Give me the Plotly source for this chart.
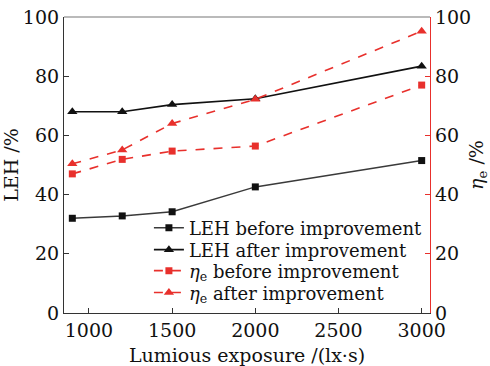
import plotly.graph_objects as go

exposure = [900, 1200, 1500, 2000, 3000]
leh_before = [32.0, 32.8, 34.2, 42.6, 51.5]
leh_after = [68.0, 68.0, 70.4, 72.4, 83.4]
eta_before = [47.0, 51.9, 54.7, 56.4, 77.0]
eta_after = [50.4, 55.1, 64.0, 72.2, 95.2]

x_ticks = [1000, 1500, 2000, 2500, 3000]
y_ticks = [0, 20, 40, 60, 80, 100]

RED = "#e8302c"
FONT = "DejaVu Serif"

fig = go.Figure()
fig.add_trace(go.Scatter(
    x=exposure, y=leh_before, name="LEH before improvement",
    mode="lines+markers", line=dict(color="#3a3a3a", width=1.5),
    marker=dict(symbol="square", size=7, color="#111111"),
    legend="legend"))
fig.add_trace(go.Scatter(
    x=exposure, y=leh_after, name="LEH after improvement",
    mode="lines+markers", line=dict(color="#111111", width=1.6),
    marker=dict(symbol="triangle-up", size=9, color="#111111"),
    legend="legend2"))
fig.add_trace(go.Scatter(
    x=exposure, y=eta_before, name="<i>η</i><sub>e</sub> before improvement",
    mode="lines+markers", yaxis="y2",
    line=dict(color=RED, width=1.6, dash="dash"),
    marker=dict(symbol="square", size=7, color=RED),
    legend="legend3"))
fig.add_trace(go.Scatter(
    x=exposure, y=eta_after, name="<i>η</i><sub>e</sub> after improvement",
    mode="lines+markers", yaxis="y2",
    line=dict(color=RED, width=1.6, dash="dash"),
    marker=dict(symbol="triangle-up", size=9, color=RED),
    legend="legend4"))

axis_font = dict(family=FONT, size=19, color="#111111")
legend_font = dict(family=FONT, size=18, color="#111111")


def legend_box(y):
    # one entry per box so the rows can sit closely together
    return dict(x=0.232, y=y, xanchor="left", yanchor="middle",
                bgcolor="rgba(0,0,0,0)", borderwidth=0,
                font=legend_font, itemwidth=30)


fig.update_layout(
    width=490, height=366,
    margin=dict(l=64, r=60, t=17, b=53),
    paper_bgcolor="white", plot_bgcolor="white",
    font=dict(family=FONT, size=19, color="#111111"),
    showlegend=True,
    legend=legend_box(0.287),
    legend2=legend_box(0.213),
    legend3=legend_box(0.142),
    legend4=legend_box(0.068),
    xaxis=dict(range=[850, 3050], tickvals=x_ticks, ticks="inside",
               ticklen=5, tickcolor="#333333", showgrid=False, zeroline=False,
               showline=True, linecolor="#333333", linewidth=1.2,
               tickfont=axis_font, automargin=False,
               title=dict(text="Lumious exposure /(lx·s)", font=axis_font)),
    yaxis=dict(range=[0, 100], tickvals=y_ticks, ticks="inside", ticklen=5,
               tickcolor="#333333", showgrid=False, zeroline=False,
               showline=True, linecolor="#333333", linewidth=1.2,
               tickfont=axis_font, automargin=False,
               title=dict(text="LEH /%", font=axis_font)),
    yaxis2=dict(range=[0, 100], tickvals=y_ticks, overlaying="y",
                side="right", ticks="inside", ticklen=5, tickcolor=RED,
                showgrid=False, zeroline=False, showline=True,
                linecolor=RED, linewidth=1.2, tickfont=axis_font,
                automargin=False,
                title=dict(text="<i>η</i><sub>e</sub> /%", font=axis_font)),
    shapes=[dict(type="line", xref="paper", yref="paper", x0=0, x1=1,
                 y0=1, y1=1, line=dict(color="#777777", width=1.2))],
)

fig.write_html("out.html")
